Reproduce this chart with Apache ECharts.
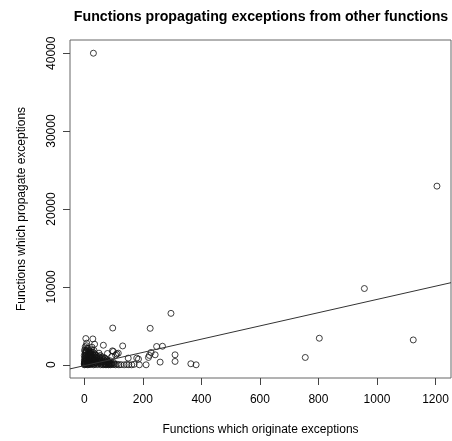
<!DOCTYPE html>
<html>
<head>
<meta charset="utf-8">
<script src="https://cdn.jsdelivr.net/npm/echarts@6/dist/echarts.min.js"></script>
<style>
  html, body { margin: 0; padding: 0; background: #fff; }
  #chart { width: 452px; height: 441px; }
</style>
</head>
<body>
<div id="chart"></div>
<script>
// Scatter of originating vs propagating exception counts, with a fitted line

const titleText = 'Functions propagating exceptions from other functions'
const xName = 'Functions which originate exceptions'
const yName = 'Functions which propagate exceptions'

const xTicks = [0, 200, 400, 600, 800, 1000, 1200]
const yTicks = [0, 10000, 20000, 30000, 40000]

// [originate, propagate]
const points = [
  [0, 0], [1, 50], [2, 120], [3, 200], [1, 300], [2, 420], [4, 550], [3, 700],
  [5, 850], [2, 1000], [4, 1150], [6, 1300], [3, 1450], [5, 1600], [8, 1750],
  [10, 2090], [8, 2770], [5, 3370], [14, 2130], [26, 2260], [29, 3320],
  [4, 80], [6, 260], [7, 640], [9, 980], [6, 1850], [1, 1900], [3, 2300],
  [0, 150], [0, 500], [1, 800], [0, 1200], [2, 1700], [7, 2450],
  [12, 0], [14, 90], [11, 180], [15, 310], [13, 470], [16, 600], [12, 760],
  [18, 900], [15, 1050], [17, 1220], [20, 1380], [19, 1540], [22, 1680],
  [24, 1900], [20, 40], [22, 150], [25, 280], [23, 410], [27, 560], [21, 720],
  [26, 870], [28, 1010], [24, 1160], [29, 1290], [27, 1450],
  [9, 30], [10, 380], [11, 520], [13, 1350], [16, 1800], [18, 60], [19, 240],
  [17, 450], [20, 830], [21, 1100], [14, 1600], [23, 1300], [25, 90],
  [32, 0], [34, 70], [31, 160], [36, 290], [33, 430], [38, 570], [35, 700],
  [40, 840], [37, 980], [42, 1110], [39, 1240], [35, 2640], [44, 20], [46, 130],
  [43, 240], [48, 380], [45, 510], [50, 650], [47, 790], [52, 920], [49, 1060],
  [54, 1190], [50, 1490], [56, 0], [58, 110], [55, 260], [60, 400], [57, 540],
  [59, 700], [62, 860], [61, 1020],
  [30, 1600], [33, 1850], [36, 1400], [31, 600], [41, 300], [28, 180],
  [64, 0], [66, 90], [68, 220], [65, 360], [70, 500], [67, 640], [72, 780],
  [65, 2510], [74, 0], [76, 80], [78, 200], [75, 340], [80, 470], [77, 600],
  [82, 0], [84, 100], [86, 230], [83, 380], [88, 520], [79, 1450], [90, 0],
  [92, 90], [94, 210], [96, 1790], [97, 4720], [99, 1710], [107, 1240],
  [111, 1400], [94, 1070], [98, 30], [102, 120], [100, 300],
  [71, 30], [73, 150], [81, 280], [85, 40], [89, 160], [69, 900],
  [106, 0], [112, 60], [118, 0], [125, 20], [131, 2420], [136, 0], [145, 40],
  [150, 855], [116, 1490], [152, 10], [162, 0], [170, 60], [179, 855],
  [185, 730], [188, 0], [211, 0], [219, 940], [222, 1200], [225, 4680],
  [228, 1580], [242, 1280], [247, 2350], [259, 345], [267, 2380], [296, 6600],
  [310, 1280], [310, 430], [364, 130], [382, 0],
  [755, 940], [803, 3407], [957, 9790], [1124, 3190], [1205, 22936], [31, 40000]
]

// fitted line: propagate = intercept + slope * originate
const intercept = -110
const slope = 8.5

const xMin = -49, xMax = 1253
const yMin = -1697, yMax = 41697

const fitLine = [xMin, xMax].map(x => [x, intercept + slope * x])

const chart = echarts.init(document.getElementById('chart'))
const font = 'Liberation Sans, Arial, sans-serif'
const plain = v => String(v)

chart.setOption({
  animation: false,
  title: {
    text: titleText,
    left: 256,
    top: 5,
    textAlign: 'center',
    textStyle: { fontFamily: font, fontSize: 14.2, fontWeight: 'bold', color: '#000' },
  },
  grid: {
    left: 70, top: 40, width: 381, height: 340,
    show: true, borderColor: '#666', borderWidth: 1,
  },
  xAxis: {
    type: 'value',
    min: xMin, max: xMax,
    name: xName,
    nameLocation: 'middle',
    nameGap: 46,
    nameTextStyle: { fontFamily: font, fontSize: 12, color: '#000' },
    axisLine: { show: false, onZero: false },
    splitLine: { show: false },
    axisTick: { show: true, inside: false, length: 7, customValues: xTicks, lineStyle: { color: '#444' } },
    axisLabel: { customValues: xTicks, formatter: plain, margin: 16, fontFamily: font, fontSize: 12, color: '#000' },
  },
  yAxis: {
    type: 'value',
    min: yMin, max: yMax,
    name: yName,
    nameLocation: 'middle',
    nameGap: 42,
    nameRotate: 90,
    nameTextStyle: { fontFamily: font, fontSize: 12, color: '#000' },
    axisLine: { show: false, onZero: false },
    splitLine: { show: false },
    axisTick: { show: true, inside: false, length: 7, customValues: yTicks, lineStyle: { color: '#444' } },
    axisLabel: { customValues: yTicks, formatter: plain, rotate: 90, margin: 12, fontFamily: font, fontSize: 12, color: '#000' },
  },
  series: [
    {
      type: 'scatter',
      data: points,
      symbol: 'circle',
      symbolSize: 6,
      itemStyle: { color: 'rgba(0,0,0,0)', borderColor: '#111', borderWidth: 1 },
    },
    {
      type: 'line',
      data: fitLine,
      showSymbol: false,
      silent: true,
      lineStyle: { color: '#333', width: 1 },
    },
  ],
})
</script>
</body>
</html>
